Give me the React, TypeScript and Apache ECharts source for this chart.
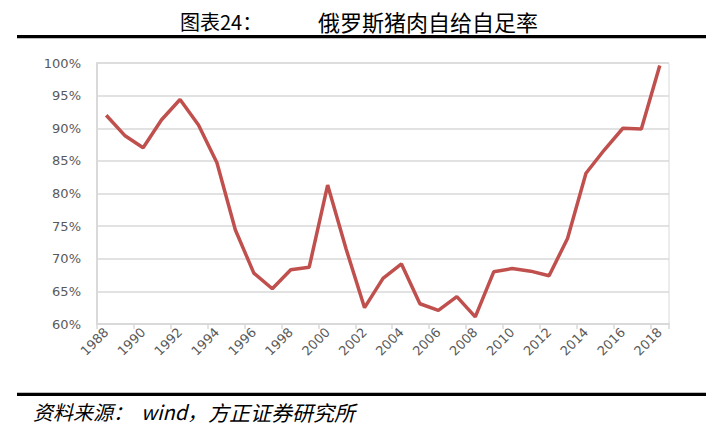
import React, { useEffect, useRef } from "react";
import * as echarts from "echarts";

const years: string[] = [
  "1988", "1989", "1990", "1991", "1992", "1993", "1994", "1995", "1996", "1997",
  "1998", "1999", "2000", "2001", "2002", "2003", "2004", "2005", "2006", "2007",
  "2008", "2009", "2010", "2011", "2012", "2013", "2014", "2015", "2016", "2017", "2018",
];

const selfSufficiency: number[] = [
  92.0, 88.9, 87.0, 91.3, 94.4, 90.5, 84.7, 74.4, 67.8, 65.4,
  68.3, 68.7, 81.3, 71.5, 62.5, 67.0, 69.2, 63.1, 62.1, 64.2,
  61.1, 68.0, 68.5, 68.1, 67.4, 73.1, 83.1, 86.7, 90.0, 89.9, 99.6,
];

const titlePrefix = "图表24：";
const titleMain = "俄罗斯猪肉自给自足率";
const sourceParts: string[] = ["资料来源：", "wind，", "方正证券研究所"];

const CJK = '"Noto Sans CJK SC", "Noto Sans", sans-serif';

export default function App() {
  const ref = useRef<HTMLDivElement>(null);

  useEffect(() => {
    if (!ref.current) return;
    const chart = echarts.init(ref.current, null, { renderer: "svg" });
    chart.setOption({
      animation: false,
      backgroundColor: "#ffffff",
      grid: {
        left: 97,
        right: 48,
        top: 63,
        bottom: 104,
        show: true,
        borderColor: "#d9d9d9",
        borderWidth: 1,
      },
      xAxis: {
        type: "category",
        data: years,
        boundaryGap: true,
        axisLine: { show: true, lineStyle: { color: "#d9d9d9", width: 2 } },
        axisTick: { show: true, interval: 1, length: 5, lineStyle: { color: "#d9d9d9", width: 1.5 } },
        axisLabel: {
          interval: 1,
          rotate: 45,
          color: "#595959",
          fontSize: 13,
          fontFamily: '"DejaVu Sans", Verdana, sans-serif',
          margin: 6,
        },
        splitLine: { show: false },
      },
      yAxis: {
        type: "value",
        min: 60,
        max: 100,
        interval: 5,
        axisLine: { show: true, lineStyle: { color: "#d9d9d9", width: 2 } },
        axisTick: { show: false },
        axisLabel: {
          formatter: "{value}%",
          color: "#595959",
          fontSize: 13,
          fontFamily: '"DejaVu Sans", Verdana, sans-serif',
          margin: 16,
        },
        splitLine: { show: true, lineStyle: { color: "#d9d9d9", width: 1.5 } },
      },
      series: [
        {
          type: "line",
          data: selfSufficiency,
          symbol: "none",
          lineStyle: { color: "#c0504d", width: 3.5 },
          itemStyle: { color: "#c0504d" },
        },
      ],
      graphic: [
        {
          type: "text",
          left: 180,
          top: 11,
          style: { text: titlePrefix, font: `20px ${CJK}`, fill: "#000000" },
        },
        {
          type: "text",
          left: 318,
          top: 10,
          style: { text: titleMain, font: `22px ${CJK}`, fill: "#000000" },
        },
        {
          type: "rect",
          shape: { x: 17, y: 35, width: 689, height: 3.3 },
          style: { fill: "#000000" },
        },
        {
          type: "rect",
          shape: { x: 17, y: 392.7, width: 689, height: 3.3 },
          style: { fill: "#000000" },
        },
        {
          type: "text",
          left: 33,
          top: 401,
          style: { text: sourceParts[0], font: `italic 20px ${CJK}`, fill: "#000000" },
        },
        {
          type: "text",
          left: 141,
          top: 401,
          style: { text: sourceParts[1], font: `italic 20px ${CJK}`, fill: "#000000" },
        },
        {
          type: "text",
          left: 208,
          top: 401,
          style: { text: sourceParts[2], font: `italic 21px ${CJK}`, fill: "#000000" },
        },
      ],
    });
    return () => chart.dispose();
  }, []);

  return (
    <div
      ref={ref}
      style={{ position: "absolute", left: 0, top: 0, width: 717, height: 428 }}
    />
  );
}
